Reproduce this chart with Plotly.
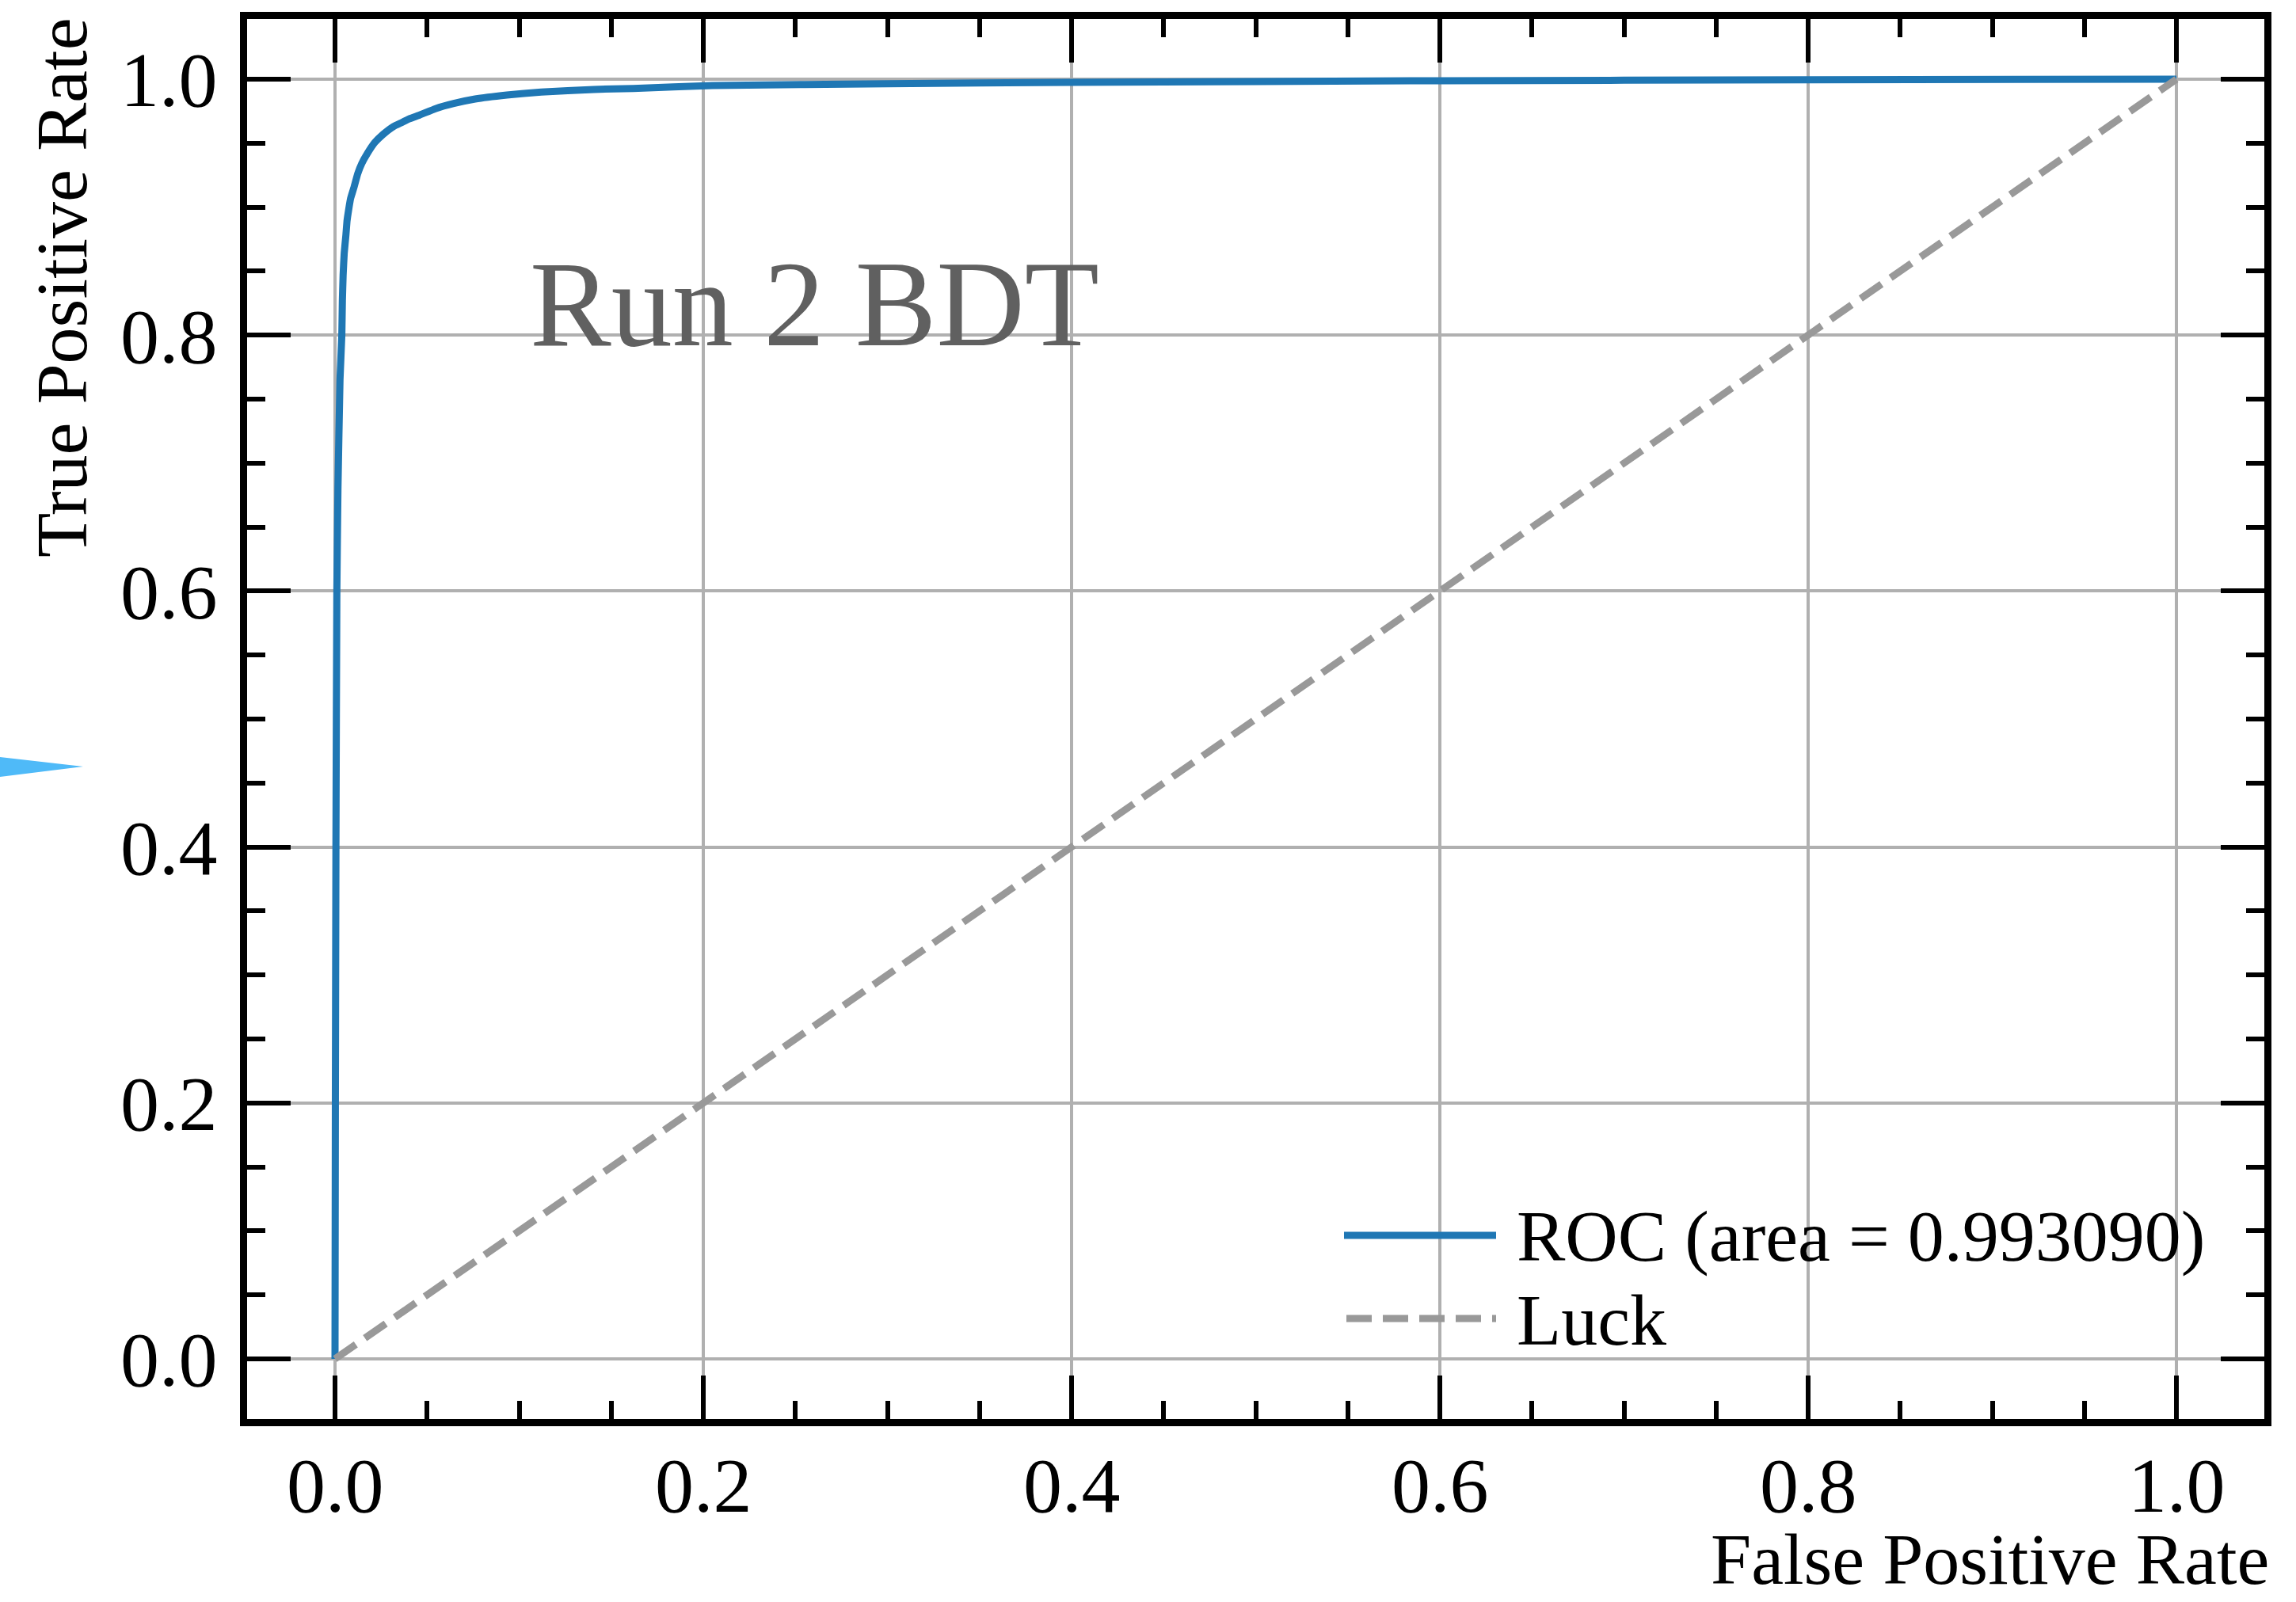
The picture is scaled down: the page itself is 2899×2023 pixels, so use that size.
import plotly.graph_objects as go

# ---- data ----
roc_fpr = [0.0, 0.0002, 0.0005, 0.0010, 0.0016, 0.0027, 0.0037, 0.0040, 0.0044,
           0.0050, 0.0059, 0.0065, 0.0073, 0.0085, 0.0102, 0.0123, 0.0145,
           0.0176, 0.0216, 0.0262, 0.0317, 0.0360, 0.0403, 0.0460, 0.0546,
           0.0645, 0.0761, 0.0933, 0.112, 0.1406, 0.162, 0.205, 0.300, 0.400,
           0.600, 0.800, 1.0]
roc_tpr = [0.0, 0.20, 0.40, 0.60, 0.68, 0.765, 0.800, 0.827, 0.847,
           0.864, 0.878, 0.889, 0.897, 0.907, 0.915, 0.926, 0.934,
           0.942, 0.9505, 0.957, 0.963, 0.966, 0.969, 0.972, 0.977,
           0.981, 0.9845, 0.9876, 0.990, 0.992, 0.9928, 0.995, 0.9965, 0.9975,
           0.9988, 0.9995, 1.0]
luck_x = [0.0, 1.0]
luck_y = [0.0, 1.0]
roc_name = "ROC (area = 0.993090)"
luck_name = "Luck"
tick_vals = [0.0, 0.2, 0.4, 0.6, 0.8, 1.0]
tick_text = ["0.0", "0.2", "0.4", "0.6", "0.8", "1.0"]
x_title = "False Positive Rate"
y_title = "True Positive Rate"
label_text = "Run 2 BDT"

W, H = 2899, 2023
# reference pixel mapping: x px = 423 + 2325*x ; y px = 1716 - 1616*y
X0PX, XS = 423.0, 2325.0
Y0PX, YS = 1716.0, 1616.0
LW = 9  # frame width
L, R, T, B = 312, 40, 24, 231
pw, ph = W - L - R, H - T - B
x_range = [(L - X0PX) / XS, (W - R - X0PX) / XS]
y_range = [(Y0PX - (H - B)) / YS, (Y0PX - T) / YS]

def px_x(p):
    return (p - L) / pw

def px_y(p):
    return (H - B - p) / ph

SERIF = "Liberation Serif, Times New Roman, serif"
BLUE = "#1f77b4"
GRAY = "#999999"
DASH = "32px,14px"

fig = go.Figure()
fig.add_trace(go.Scatter(x=roc_fpr, y=roc_tpr, mode="lines", name=roc_name,
                         line=dict(color=BLUE, width=9, shape="spline", smoothing=0.3),
                         showlegend=False))
fig.add_trace(go.Scatter(x=luck_x, y=luck_y, mode="lines", name=luck_name,
                         line=dict(color=GRAY, width=9, dash=DASH), showlegend=False))

axis_common = dict(
    tickmode="array", tickvals=tick_vals, ticktext=tick_text,
    ticks="inside", ticklen=55, tickwidth=6, tickcolor="black",
    showline=True, linewidth=LW, linecolor="black", mirror="ticks",
    showgrid=True, gridcolor="#b0b0b0", gridwidth=3.5,
    zeroline=False,
    tickfont=dict(family=SERIF, size=98, color="black"),
    minor=dict(ticks="inside", dtick=0.05, tick0=0, ticklen=23, tickwidth=6,
               tickcolor="black", showgrid=False),
)

# x tick labels are placed as annotations (at the tick values) for exact vertical control
fig.update_xaxes(**axis_common, range=x_range, showticklabels=False)
fig.update_yaxes(**axis_common, range=y_range, ticklabelstandoff=9)

annotations = [
    dict(text=t, xref="x", yref="paper", x=v, y=px_y(1876),
         xanchor="center", yanchor="middle", showarrow=False, borderpad=0,
         font=dict(family=SERIF, size=98, color="black"))
    for v, t in zip(tick_vals, tick_text)
]

annotations += [
    dict(text=x_title, xref="paper", yref="paper", x=px_x(2866), y=px_y(1969),
         xanchor="right", yanchor="middle", showarrow=False, borderpad=0,
         font=dict(family=SERIF, size=92, color="black")),
    dict(text=y_title, xref="paper", yref="paper", x=px_x(78), y=px_y(20),
         xanchor="center", yanchor="top", textangle=-90, showarrow=False,
         font=dict(family=SERIF, size=92, color="black")),
    dict(text=label_text, xref="x", yref="y", x=0.105, y=0.824,
         xanchor="left", yanchor="middle", showarrow=False,
         font=dict(family=SERIF, size=154, color="#606060")),
    dict(text=roc_name, xref="paper", yref="paper", x=px_x(1913), y=px_y(1561),
         xanchor="left", yanchor="middle", showarrow=False,
         font=dict(family=SERIF, size=92, color="black")),
    dict(text=luck_name, xref="paper", yref="paper", x=px_x(1913), y=px_y(1667),
         xanchor="left", yanchor="middle", showarrow=False,
         font=dict(family=SERIF, size=92, color="black")),
]

shapes = [
    # legend samples
    dict(type="line", xref="paper", yref="paper",
         x0=px_x(1697), x1=px_x(1889), y0=px_y(1560), y1=px_y(1560),
         line=dict(color=BLUE, width=9)),
    dict(type="line", xref="paper", yref="paper",
         x0=px_x(1700), x1=px_x(1889), y0=px_y(1665), y1=px_y(1665),
         line=dict(color=GRAY, width=9, dash=DASH)),
    # small light-blue pointer at the left edge
    dict(type="path", xref="paper", yref="paper",
         path=f"M {px_x(0)} {px_y(956)} L {px_x(105)} {px_y(968)} L {px_x(0)} {px_y(981)} Z",
         fillcolor="#4fbaf8", line=dict(width=0)),
]

fig.update_layout(
    width=W, height=H,
    margin=dict(l=L, r=R, t=T, b=B, pad=0),
    paper_bgcolor="white", plot_bgcolor="white",
    annotations=annotations, shapes=shapes,
    showlegend=False,
)

fig.write_html("out.html")
